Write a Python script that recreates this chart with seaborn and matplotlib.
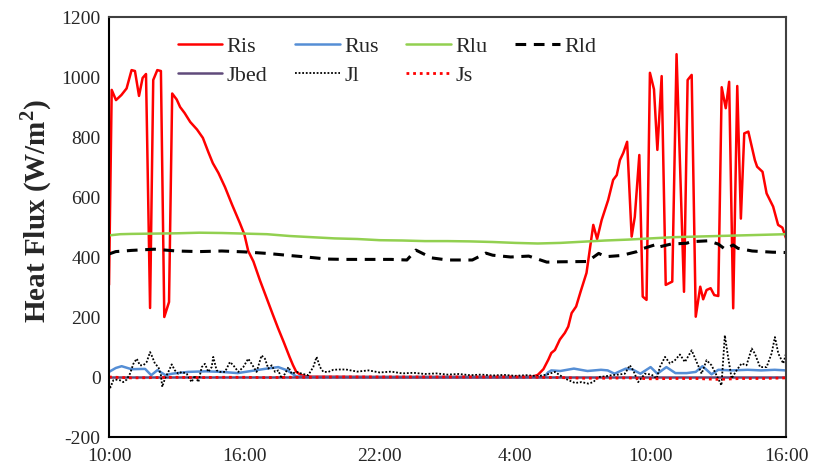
import numpy as np
import pandas as pd
import matplotlib
matplotlib.use("Agg")
import matplotlib.pyplot as plt
from matplotlib.lines import Line2D
import seaborn as sns

# ---------------- data (hours after 10:00 on day 1) ----------------
ris_t = [0.0, 0.12, 0.31, 0.55, 0.78, 1.0, 1.15, 1.33, 1.49, 1.64, 1.82, 1.96, 2.14, 2.30, 2.45,
         2.66, 2.80, 3.0, 3.15, 3.35, 3.6, 3.9, 4.16, 4.4, 4.6, 4.85, 5.14, 5.45, 5.8, 6.0, 6.17,
         6.4, 6.69, 7.0, 7.25, 7.49, 7.75, 8.0, 8.15, 8.3, 8.5, 8.7, 9.0, 12.0, 18.5, 18.8, 19.0,
         19.25, 19.47, 19.6, 19.76, 19.98, 20.2, 20.35, 20.5, 20.7, 20.9, 21.16, 21.46, 21.63,
         21.83, 22.12, 22.34, 22.5, 22.64, 22.79, 22.96, 23.16, 23.3, 23.5, 23.65, 23.82, 23.97,
         24.15, 24.3, 24.49, 24.67, 24.96, 25.15, 25.48, 25.64, 25.82, 26.0, 26.2, 26.33, 26.48,
         26.66, 26.82, 27.0, 27.15, 27.33, 27.48, 27.66, 27.84, 28.0, 28.15, 28.33, 28.62, 28.72,
         28.96, 29.14, 29.43, 29.65, 29.84, 30.0]
ris_v = [307, 957, 923, 940, 962, 1023, 1020, 937, 997, 1010, 230, 990, 1023, 1020, 200,
         250, 945, 925, 900, 880, 850, 825, 797, 750, 713, 680, 633, 575, 513, 475, 420,
         385, 322, 260, 210, 163, 115, 67, 40, 17, 7, 3, 1, 0, 0, 2, 7,
         26, 58, 80, 90, 125, 147, 168, 213, 235, 285, 347, 507, 460,
         523, 590, 657, 673, 723, 747, 784, 468, 534, 740, 268, 257, 1014,
         959, 757, 1003, 307, 318, 1076, 284, 990, 1007, 201, 301, 259, 290,
         296, 273, 270, 966, 896, 984, 229, 970, 528, 812, 818, 723, 701,
         684, 612, 568, 507, 498, 463]

rus_t = [0, 0.3, 0.56, 1.0, 1.6, 1.87, 2.15, 2.5, 2.8, 3.5, 4.3, 5.0, 5.7, 6.3, 6.9, 7.5, 7.9,
         8.3, 8.7, 19.3, 19.45, 19.6, 20.0, 20.6, 21.2, 21.8, 22.1, 22.4, 22.9, 23.2, 23.55,
         24.0, 24.3, 24.7, 25.1, 25.6, 26.0, 26.3, 26.7, 27.0, 27.6, 28.3, 28.9, 29.5, 30]
rus_v = [17, 30, 36, 26, 27, 6, 23, 6, 11, 17, 19, 17, 13, 20, 27, 33, 22,
         2, 0, 0, 15, 22, 20, 28, 20, 24, 22, 11, 28, 25, 11,
         33, 11, 33, 13, 13, 17, 36, 9, 24, 22, 24, 22, 24, 22]

rlu_t = [0, 0.5, 1, 2, 3, 4, 5, 6, 7, 8, 9, 10, 11, 12, 13, 14, 15, 16, 17, 18, 19, 20,
         21, 22, 23, 24, 25, 26, 27, 28, 29, 30]
rlu_v = [472, 476, 477, 478, 479, 481, 480, 478, 476, 470, 466, 462, 460, 456, 455, 453,
         453, 452, 450, 447, 445, 447, 451, 455, 458, 462, 466, 468, 470, 472, 474, 476]

rld_t = [0, 0.3, 1, 2, 3, 4, 5, 6, 7, 8, 8.6, 9.7, 10.5, 11.5, 12.5, 13.2, 13.6, 14.3, 15.0,
         16.1, 16.7, 17.0, 17.8, 18.6, 19.4, 20.0, 21.2, 21.7, 22.0, 22.7, 23.4, 23.7, 24.3,
         24.4, 24.9, 25.6, 25.8, 26.55, 27.0, 27.3, 27.66, 27.87, 28.5, 29.4, 30]
rld_v = [410, 418, 422, 426, 420, 418, 420, 417, 412, 405, 401, 393, 392, 392, 392, 390,
         423, 397, 390, 390, 413, 406, 400, 403, 383, 384, 385, 412, 401, 405, 418, 429, 443,
         434, 443, 446, 451, 454, 443, 426, 440, 429, 420, 416, 415]

jbed_t = [0, 3, 6, 9, 12, 15, 18, 21, 24, 27, 30]
jbed_v = [0, 0, 0, 0, 0, 0, 0, 0, 0, 0, 0]

jl_t = [0.0, 0.04, 0.19, 0.34, 0.49, 0.63, 0.78, 0.93, 1.08, 1.23, 1.37, 1.52, 1.67, 1.82,
        1.89, 2.04, 2.19, 2.30, 2.36, 2.48, 2.63, 2.78, 2.92, 3.07, 3.22, 3.44, 3.66, 3.81,
        3.96, 4.11, 4.25, 4.40, 4.55, 4.62, 4.77, 4.92, 5.14, 5.36, 5.51, 5.73, 5.95, 6.17,
        6.32, 6.54, 6.76, 6.91, 7.06, 7.21, 7.36, 7.50, 7.65, 7.80, 7.95, 8.10, 8.32, 8.54,
        8.83, 9.05, 9.20, 9.35, 9.50, 9.72, 9.94, 10.2, 10.5, 11.0, 11.5, 12.0, 12.5, 13.0,
        13.5, 14.0, 14.5, 15.0, 15.5, 16.0, 16.5, 17.0, 17.5, 18.0, 18.5, 19.0, 19.4, 19.76,
        20.2, 20.65, 20.94, 21.24, 21.46, 21.68, 21.98, 22.27, 22.57, 22.86, 23.08, 23.23,
        23.45, 23.75, 24.04, 24.27, 24.41, 24.64, 24.86, 25.08, 25.3, 25.52, 25.82, 26.04,
        26.26, 26.48, 26.70, 26.92, 27.14, 27.29, 27.41, 27.59, 27.81, 28.03, 28.25, 28.48,
        28.62, 28.85, 29.14, 29.36, 29.51, 29.66, 29.88, 30.0]
jl_v = [-17, -39, -11, -9, -11, -17, -9, 11, 44, 61, 39, 39, 50, 83,
        72, 44, 33, 6, -33, -5, 17, 42, 22, 11, 17, 11, -17, 5,
        -17, 33, 44, 17, 33, 67, 22, 17, 17, 50, 39, 17, 33, 61,
        44, 17, 72, 61, 28, 39, 17, 22, -5, 11, 33, 11, 17, 11,
        6, 33, 67, 33, 17, 17, 24, 25, 25, 18, 22, 15, 18, 12,
        14, 10, 12, 8, 10, 6, 8, 5, 7, 4, 6, 3, 8, 17,
        -5, -20, -17, -22, -17, 0, 2, 6, 8, 11, 39, 22,
        -17, 11, 8, -5, 33, 67, 45, 56, 75, 50, 89, 50,
        11, 56, 39, 6, -28, 139, 78, -5, 22, 45, 39, 95,
        78, 33, 33, 78, 133, 78, 45, 78]

js_t = [0, 1, 2, 3, 4, 5, 6, 7, 8, 9, 10, 12, 14, 16, 18, 19, 20, 21, 22, 23, 24, 25, 26,
        27, 28, 29, 30]
js_v = [0, -3, -2, -1, -2, -1, -1, -2, -1, -1, 0, 0, 0, 0, 0, -1, -2, -4, -4, -3, -6, -5,
        -5, -8, -5, -5, -3]

x_ticks = [0, 6, 12, 18, 24, 30]
x_labels = ["10:00", "16:00", "22:00", "4:00", "10:00", "16:00"]
y_ticks = [-200, 0, 200, 400, 600, 800, 1000, 1200]

# ---------------- styling ----------------
sns.set_theme(style="white")
plt.rcParams["font.family"] = ["Liberation Serif", "DejaVu Serif"]
plt.rcParams["mathtext.fontset"] = "custom"
plt.rcParams["mathtext.rm"] = "Liberation Serif"
plt.rcParams["mathtext.bf"] = "Liberation Serif:bold"

fig = plt.figure(figsize=(8.17, 4.74), dpi=100)
ax = fig.add_axes([109 / 817, 1 - 437 / 474, (786 - 109) / 817, (437 - 17) / 474])

series = [
    ("Ris", ris_t, ris_v, dict(color="#FF0000", lw=1.8, ls="-")),
    ("Rus", rus_t, rus_v, dict(color="#558ED5", lw=1.8, ls="-")),
    ("Rlu", rlu_t, rlu_v, dict(color="#92D050", lw=1.8, ls="-")),
    ("Rld", rld_t, rld_v, dict(color="#000000", lw=2.2, ls=(0, (3.5, 2.5)))),
    ("Jbed", jbed_t, jbed_v, dict(color="#604A7B", lw=1.8, ls="-")),
    ("Jl", jl_t, jl_v, dict(color="#000000", lw=1.3, ls=(0, (1, 1)))),
    ("Js", js_t, js_v, dict(color="#FF0000", lw=2.0, ls=(0, (1, 1.4)))),
]

handles = {}
for name, t, v, st in series:
    df = pd.DataFrame({"t": t, "v": v})
    sns.lineplot(data=df, x="t", y="v", ax=ax, color=st["color"], linewidth=st["lw"],
                 linestyle=st["ls"], estimator=None, sort=True, legend=False)
    handles[name] = Line2D([0], [0], color=st["color"], lw=st["lw"], ls=st["ls"])

ax.set_xlim(0, 30)
ax.set_ylim(-200, 1200)
ax.set_xticks(x_ticks)
ax.set_xticklabels(x_labels, fontsize=14)
ax.set_yticks(y_ticks)
ax.set_yticklabels([str(y) for y in y_ticks], fontsize=14)
ax.tick_params(axis="y", direction="in", length=6, width=1.2, color="black", pad=6)
ax.tick_params(axis="x", length=0, pad=8)
ax.set_xlabel("")
ax.set_ylabel("Heat Flux (W/m$^{\\mathbf{2}}$)", fontsize=21, fontweight="bold")
ax.yaxis.set_label_coords(-0.081, 0.537)

for side in ["left", "bottom"]:
    ax.spines[side].set_color("black")
    ax.spines[side].set_linewidth(1.5)
for side in ["top", "right"]:
    ax.spines[side].set_color("#404040")
    ax.spines[side].set_linewidth(1.5)

order = ["Ris", "Jbed", "Rus", "Jl", "Rlu", "Js", "Rld"]
leg = ax.legend([handles[n] for n in order], order, ncol=4, frameon=False, fontsize=16,
                loc="upper left", bbox_to_anchor=(0.082, 0.985), handlelength=2.0,
                handletextpad=0.2, columnspacing=1.25, labelspacing=0.35, borderaxespad=0.2)

fig.savefig("out.png", dpi=100)
